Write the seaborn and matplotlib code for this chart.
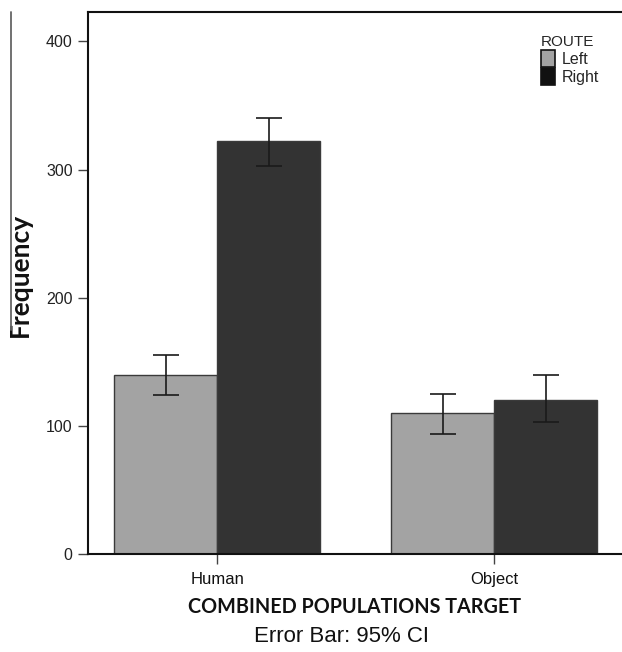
import matplotlib
matplotlib.use("Agg")
import matplotlib.pyplot as plt
from matplotlib.lines import Line2D
import numpy as np
import pandas as pd
import seaborn as sns

# ---- data ----
categories = ["Human", "Object"]
routes = ["Left", "Right"]
freq_left = [140, 110]
freq_right = [322, 120]
ci_low_left = [124, 94]
ci_high_left = [155, 124.5]
ci_low_right = [303, 103]
ci_high_right = [340, 139.5]
y_ticks = [0, 100, 200, 300, 400]

df = pd.DataFrame({
    "target": categories * 2,
    "ROUTE": [routes[0]] * 2 + [routes[1]] * 2,
    "freq": freq_left + freq_right,
})
lows = [ci_low_left, ci_low_right]
highs = [ci_high_left, ci_high_right]

sns.set_style("white")
plt.rcParams["font.family"] = ["Liberation Sans", "DejaVu Sans"]

fig = plt.figure(figsize=(6.22, 6.52), dpi=100)
ax = fig.add_axes([88 / 622, (652 - 554) / 652, 1 - 88 / 622, (554 - 12) / 652])

palette = {"Left": "#a3a3a3", "Right": "#333333"}
sns.barplot(data=df, x="target", y="freq", hue="ROUTE", order=categories,
            hue_order=routes, palette=palette, errorbar=None, width=0.744,
            saturation=1, edgecolor="#3a3a3a", linewidth=1.0, ax=ax)

for cont, lo, hi, val in zip(ax.containers, lows, highs, [freq_left, freq_right]):
    xs = [p.get_x() + p.get_width() / 2 for p in cont.patches]
    v = np.array(val, dtype=float)
    yerr = np.vstack([v - np.array(lo), np.array(hi) - v])
    ax.errorbar(xs, v, yerr=yerr, fmt="none", ecolor="#1a1a1a",
                elinewidth=1.2, capsize=9.5, capthick=1.2, zorder=5)

ax.set_xlim(-0.466, 1.462)
ax.set_ylim(0, 423)
ax.set_yticks(y_ticks)
ax.set_yticklabels([str(t) for t in y_ticks])

for s in ["left", "bottom", "top"]:
    ax.spines[s].set_visible(True)
    ax.spines[s].set_color("#111111")
    ax.spines[s].set_linewidth(1.5)
ax.spines["right"].set_visible(False)

ax.tick_params(axis="y", direction="out", length=7, width=1.0, color="#444444",
               labelsize=11.5, pad=4, left=True, labelcolor="#222222")
ax.tick_params(axis="x", direction="out", length=7, width=1.0, color="#444444",
               labelsize=12, pad=6, bottom=True, labelcolor="#111111")

ax.set_ylabel("Frequency", fontsize=19, fontweight="bold", family=["Lato", "DejaVu Sans"],
              color="#111111")
ax.yaxis.set_label_coords((32 - 88) / 534, (554 - 275) / 542)
ax.set_xlabel("COMBINED POPULATIONS TARGET", fontsize=14.2, fontweight="bold",
              family=["Lato", "DejaVu Sans"], labelpad=7, color="#111111")

fig.text(342 / 622, 1 - 636 / 652, "Error Bar: 95% CI",
         ha="center", va="center", fontsize=16, color="#111111")

# stray vertical line on left
fig.add_artist(Line2D([11 / 622, 11 / 622], [1 - 12 / 652, 1 - 330 / 652],
                      color="#666666", linewidth=1.3))

leg = ax.legend(title="ROUTE", loc="upper left",
                bbox_to_anchor=((541 - 88) / 534, (554 - 35) / 542),
                frameon=False, fontsize=11.5, title_fontsize=11,
                handlelength=0.85, handleheight=1.2, handletextpad=0.45,
                labelspacing=0.08, borderpad=0.0, borderaxespad=0.0)
leg._legend_box.align = "left"
for h in leg.legend_handles:
    h.set_edgecolor("#111111")
    h.set_linewidth(1.2)
leg.legend_handles[1].set_facecolor("#111111")

fig.savefig("out.png", dpi=100)
